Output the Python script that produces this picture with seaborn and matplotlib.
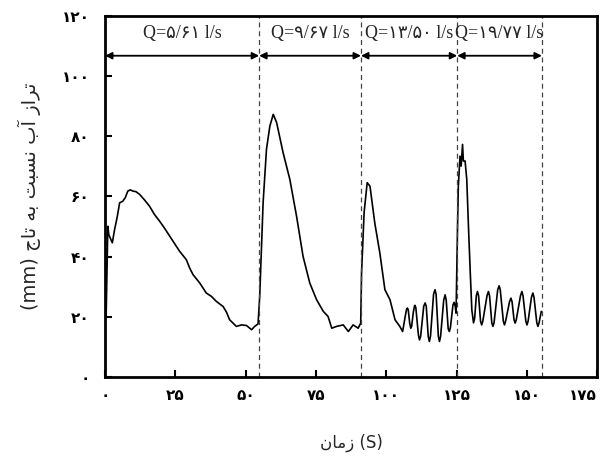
import numpy as np
import pandas as pd
import matplotlib
matplotlib.use('Agg')
import matplotlib.pyplot as plt
import seaborn as sns

# water level over the crest, one block per discharge
time_q1 = [0.0, 0.4, 1.0, 1.35, 2.6, 3.4, 4.3, 5.2, 6.3, 7.2, 8.1, 9.0, 9.9, 11.0, 12.3, 14.0,
           15.8, 17.6, 19.4, 21.2, 23.0, 24.8, 26.5, 28.9, 30.1, 31.3, 33.7, 36.0, 37.8, 39.6,
           42.0, 43.2, 44.3, 46.7, 48.5, 50.3, 51.2, 52.1, 53.3, 54.4]
level_q1 = [19.5, 20.1, 50.1, 47.3, 44.6, 49.0, 53.0, 57.9, 58.4, 59.6, 61.8, 62.2, 61.8, 61.6,
            60.7, 58.9, 56.8, 54.0, 51.8, 49.4, 46.8, 44.2, 41.8, 39.0, 36.2, 34.0, 31.2, 27.9,
            26.8, 25.1, 23.4, 21.5, 19.0, 16.8, 17.3, 17.1, 16.4, 15.7, 16.9, 17.6]

time_q2 = [55.0, 56.2, 57.4, 58.6, 59.8, 61.0, 63.3, 65.7, 68.1, 70.4, 72.8, 75.2, 77.6,
           79.3, 80.6, 82.3, 84.7, 86.5, 88.2, 90.0, 90.9]
level_q2 = [26.8, 57.9, 75.7, 83.4, 87.3, 84.6, 74.6, 65.7, 53.4, 40.1, 31.2, 25.7, 21.8,
            20.1, 16.2, 16.8, 17.3, 15.1, 17.3, 16.2, 17.9]

time_q3 = [91.2, 92.1, 93.2, 94.2, 95.9, 97.7, 99.5, 101.3, 103.1, 104.8, 105.8,
           106.7, 107.2, 107.5, 107.8, 108.3, 108.7, 109.0, 109.6, 110.0, 110.2, 110.5,
           111.4, 111.8, 112.2, 113.3, 113.8, 114.2, 114.9, 115.3, 115.7, 116.8, 117.3,
           117.7, 118.5, 118.9, 119.3, 120.4, 120.9, 121.3, 122.0, 122.4, 122.8, 123.7,
           124.1, 124.5, 124.8]
level_q3 = [34.6, 54.6, 64.6, 63.4, 51.2, 41.2, 29.0, 25.7, 19.0, 16.8, 15.1,
            20.0, 22.5, 22.9, 22.3, 18.0, 16.2, 16.8, 21.5, 23.5, 23.8, 23.0,
            14.0, 12.3, 13.5, 23.5, 24.6, 23.5, 13.5, 11.8, 13.5, 27.5, 29.0,
            27.5, 13.5, 11.8, 13.5, 25.5, 27.3, 25.5, 16.0, 15.1, 16.5, 24.0,
            24.8, 23.5, 21.2]

time_q4 = [125.3, 125.6, 126.2, 126.6, 127.1, 127.4, 128.0, 128.6, 129.2, 129.8, 130.4,
           131.0, 131.4, 132.0, 132.4, 132.8, 133.5, 133.9, 134.3, 135.8, 136.3, 136.7,
           137.5, 137.9, 138.3, 139.6, 140.1, 140.5, 141.6, 142.0, 142.4, 143.8, 144.3,
           144.7, 145.4, 145.8, 146.2, 147.7, 148.2, 148.6, 149.6, 150.0, 150.4, 151.6,
           152.1, 152.5, 153.5, 153.9, 154.3, 155.1]
level_q4 = [49.0, 63.4, 73.4, 70.1, 77.3, 71.8, 71.8, 65.7, 50.1, 35.7, 22.3,
            18.0, 19.5, 27.0, 28.4, 27.0, 18.5, 17.3, 18.5, 27.0, 28.4, 27.0,
            18.0, 16.8, 18.0, 29.0, 30.3, 29.0, 18.5, 17.3, 18.5, 25.0, 26.2,
            25.0, 19.0, 17.9, 19.0, 27.0, 28.4, 27.0, 18.5, 17.3, 18.5, 26.5,
            27.9, 26.5, 18.0, 16.8, 18.0, 21.8]

# discharge steps: change times (s) and labels
step_times = [0.0, 54.8, 91.0, 125.2, 155.3]
q_labels = ['۵/۶۱', '۹/۶۷', '۱۳/۵۰', '۱۹/۷۷']

x_ticks = [0, 25, 50, 75, 100, 125, 150, 175]
y_ticks = [0, 20, 40, 60, 80, 100, 120]

# arabic presentation forms: isolated, final, initial, medial
FORMS = {
    'ا': ('\uFE8D', '\uFE8E', None, None),
    'آ': ('\uFE81', '\uFE82', None, None),
    'ب': ('\uFE8F', '\uFE90', '\uFE91', '\uFE92'),
    'ت': ('\uFE95', '\uFE96', '\uFE97', '\uFE98'),
    'ج': ('\uFE9D', '\uFE9E', '\uFE9F', '\uFEA0'),
    'ر': ('\uFEAD', '\uFEAE', None, None),
    'ز': ('\uFEAF', '\uFEB0', None, None),
    'س': ('\uFEB1', '\uFEB2', '\uFEB3', '\uFEB4'),
    'م': ('\uFEE1', '\uFEE2', '\uFEE3', '\uFEE4'),
    'ن': ('\uFEE5', '\uFEE6', '\uFEE7', '\uFEE8'),
    'ه': ('\uFEE9', '\uFEEA', '\uFEEB', '\uFEEC'),
}


def shape_fa(text):
    # join letters and put them in visual (left to right) order
    out = []
    for i, ch in enumerate(text):
        if ch not in FORMS:
            out.append(ch)
            continue
        prev = text[i - 1] if i > 0 else ''
        nxt = text[i + 1] if i + 1 < len(text) else ''
        iso, fin, ini, med = FORMS[ch]
        join_prev = prev in FORMS and FORMS[prev][2] is not None
        join_next = nxt in FORMS and ini is not None
        if join_prev and join_next:
            out.append(med)
        elif join_prev:
            out.append(fin)
        elif join_next:
            out.append(ini)
        else:
            out.append(iso)
    return ''.join(reversed(out))


def fa_digits(n):
    return str(n).translate(str.maketrans('0123456789', '۰۱۲۳۴۵۶۷۸۹'))


sns.set_style('ticks')
plt.rcParams['font.family'] = ['DejaVu Sans']

df = pd.DataFrame({
    'time': time_q1 + time_q2 + time_q3 + time_q4,
    'level': level_q1 + level_q2 + level_q3 + level_q4,
})

fig = plt.figure(figsize=(6.07, 4.58), dpi=100)
ax = fig.add_axes([0.173, 0.177, 0.811, 0.788])

sns.lineplot(data=df, x='time', y='level', ax=ax, color='black', lw=1.2,
             sort=False, estimator=None)

for t in step_times[1:]:
    ax.axvline(t, color='#444444', lw=0.9, ls=(0, (4, 3)))

for i, q in enumerate(q_labels):
    t0, t1 = step_times[i], step_times[i + 1]
    ax.annotate('', xy=(t0, 106.8), xytext=(t1, 106.8),
                arrowprops=dict(arrowstyle='<|-|>', color='black', lw=1.3,
                                mutation_scale=10, shrinkA=0, shrinkB=0))
    ax.text((t0 + t1) / 2, 114.2, 'Q=' + q + ' l/s', ha='center', va='center',
            fontsize=13, family=['Liberation Serif', 'DejaVu Sans'])

ax.set_xlim(0, 175)
ax.set_ylim(0, 120)
ax.set_xticks(x_ticks)
ax.set_xticklabels([fa_digits(v) for v in x_ticks], fontsize=11, fontweight='bold')
ax.get_xticklabels()[-1].set_horizontalalignment('right')
ax.set_yticks(y_ticks)
ax.set_yticklabels([fa_digits(v) for v in y_ticks], fontsize=11, fontweight='bold')
ax.tick_params(direction='in', length=5, width=1.5, colors='black')
ax.tick_params(axis='x', pad=8)
ax.tick_params(axis='y', pad=11)

for side in ['left', 'right', 'top', 'bottom']:
    ax.spines[side].set_visible(True)
    ax.spines[side].set_linewidth(2)
    ax.spines[side].set_color('black')

ax.set_xlabel(shape_fa('زمان') + ' (S)', fontsize=12, labelpad=22)
ax.set_ylabel('(mm) ' + shape_fa('تراز آب نسبت به تاج'), fontsize=14, labelpad=15)

fig.savefig('out.png', dpi=100)
